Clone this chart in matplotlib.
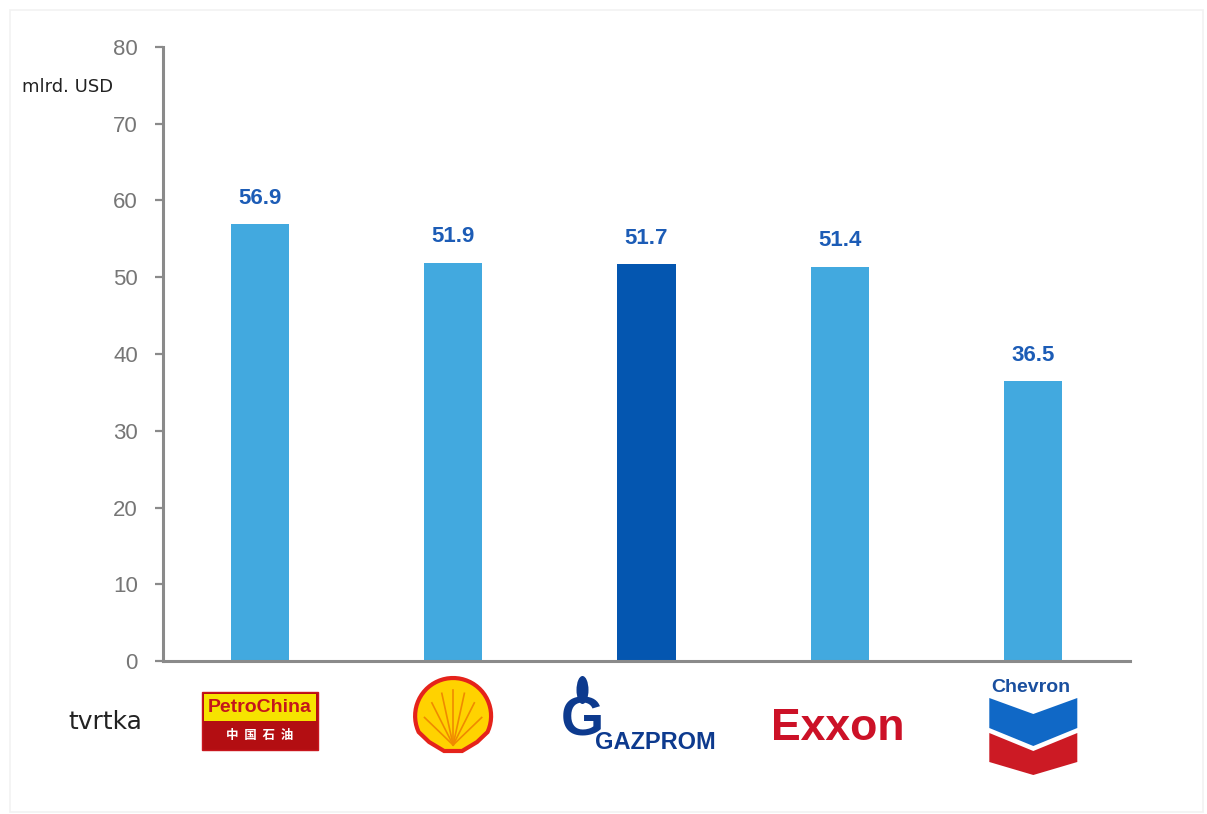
import numpy as np
import matplotlib.pyplot as plt
from matplotlib.patches import Rectangle, Polygon, Ellipse

# Data
companies = ['PetroChina', 'Shell', 'Gazprom', 'Exxon', 'Chevron']
values = [56.9, 51.9, 51.7, 51.4, 36.5]
bar_colors = ['#42a9df', '#42a9df', '#0456b0', '#42a9df', '#42a9df']
y_ticks = [0, 10, 20, 30, 40, 50, 60, 70, 80]
unit_label = 'mlrd. USD'
cat_label = 'tvrtka'

W, H = 1207, 814
plt.rcParams['font.family'] = ['Liberation Sans', 'DejaVu Sans']

fig = plt.figure(figsize=(W / 100, H / 100), dpi=100)
ax = fig.add_axes([163 / W, 1 - 661 / H, (1130 - 163) / W, (661 - 47) / H])

x = np.arange(len(companies))
ax.bar(x, values, width=0.3, color=bar_colors, zorder=2)

for xi, v in zip(x, values):
    ax.annotate(f'{v:.1f}', (xi, v), xytext=(0, 11), textcoords='offset points',
                ha='center', va='bottom', fontsize=16, fontweight='bold',
                color='#1c5cb6')

ax.set_xlim(-0.5, len(companies) - 0.5)
ax.set_ylim(0, 80)
ax.set_yticks(y_ticks)
ax.set_xticks([])
for side in ['top', 'right']:
    ax.spines[side].set_visible(False)
for side in ['left', 'bottom']:
    ax.spines[side].set_color('#8a8a8a')
    ax.spines[side].set_linewidth(2.2)
ax.tick_params(axis='y', direction='out', length=6, width=1.6, color='#8a8a8a',
               labelsize=16, labelcolor='#767676', pad=12)

# text labels
fig.text(22 / W, 1 - 87 / H, unit_label, fontsize=13, family='DejaVu Sans',
         color='#222222', va='center', ha='left')
fig.text(142 / W, 1 - 722 / H, cat_label, fontsize=18, family='DejaVu Sans',
         color='#222222', va='center', ha='right')

# faint frame around the picture
fig.patches.append(Rectangle((10 / W, 2 / H), 1193 / W, 1 - 12 / H,
                             transform=fig.transFigure, fill=False,
                             edgecolor='#f2f2f2', linewidth=1.2))

# ---------------------------------------------------------
# Logos (rough drawings) under each bar
# ---------------------------------------------------------
fig.canvas.draw()
centers = [ax.transData.transform((xi, 0))[0] for xi in x]   # display px


def P(cx, dx, py):
    # pixel offset from category centre -> figure fraction
    return ((cx + dx) / W, 1 - py / H)


tf = fig.transFigure

# PetroChina
c = centers[0]
fig.patches.append(Rectangle(P(c, -58, 750), 116 / W, 58 / H, transform=tf,
                             facecolor='#b30e12', edgecolor='#c8161d', lw=1))
fig.patches.append(Rectangle(P(c, -56, 721), 112 / W, 27 / H, transform=tf,
                             facecolor='#f6e300', edgecolor='none'))
fig.text(*P(c, 0, 707), 'PetroChina', transform=tf, ha='center', va='center',
         fontsize=14, fontweight='bold', color='#c4161c')
fig.text(*P(c, 0, 736), '中  国  石  油', transform=tf, ha='center', va='center',
         fontsize=9, fontweight='bold', color='white',
         family=['Noto Sans CJK SC', 'DejaVu Sans'])

# Shell
c = centers[1]
t = np.linspace(np.radians(205), np.radians(-25), 40)
r = 38
arc = [(c + r * np.cos(a), 716 - r * np.sin(a)) for a in t]
pts = arc + [(c + 24, 742), (c + 9, 751), (c - 9, 751), (c - 24, 742)]
fig.patches.append(Polygon([P(px, 0, py) for px, py in pts], closed=True,
                           transform=tf, facecolor='#ffd200',
                           edgecolor='#e5231b', lw=3))
for a in np.radians(np.linspace(30, 150, 7)):
    fig.lines.append(plt.Line2D([(c) / W, (c + 33 * np.cos(a)) / W],
                                [1 - 745 / H, 1 - (745 - 55 * np.sin(a)) / H],
                                transform=tf, color='#f08a00', lw=1.2))

# Gazprom
c = centers[2]
fig.text(*P(c, -64, 722), 'G', transform=tf, ha='center', va='center',
         fontsize=40, fontweight='bold', color='#0d3a8e')
fig.patches.append(Ellipse(P(c, -64, 690), 12 / W, 28 / H, transform=tf,
                           facecolor='#0d3a8e', edgecolor='none'))
fig.text(*P(c, 9, 749), 'GAZPROM', transform=tf, ha='center', va='baseline',
         fontsize=17, fontweight='bold', color='#0d3a8e')

# Exxon
c = centers[3]
fig.text(*P(c, -2, 740), 'Exxon', transform=tf, ha='center', va='baseline',
         fontsize=32, fontweight='bold', color='#cc1127')

# Chevron
c = centers[4]
fig.text(*P(c, -2, 688), 'Chevron', transform=tf, ha='center', va='center',
         fontsize=14, fontweight='bold', color='#1a4f9f')
blue = [(-44, 698), (0, 714), (44, 698), (44, 728), (0, 746), (-44, 728)]
red = [(-44, 733), (0, 751), (44, 733), (44, 762), (0, 775), (-44, 762)]
fig.patches.append(Polygon([P(c, dx, py) for dx, py in blue], closed=True,
                           transform=tf, facecolor='#1068c6', edgecolor='none'))
fig.patches.append(Polygon([P(c, dx, py) for dx, py in red], closed=True,
                           transform=tf, facecolor='#cc1a24', edgecolor='none'))

fig.savefig('out.png', dpi=100)
